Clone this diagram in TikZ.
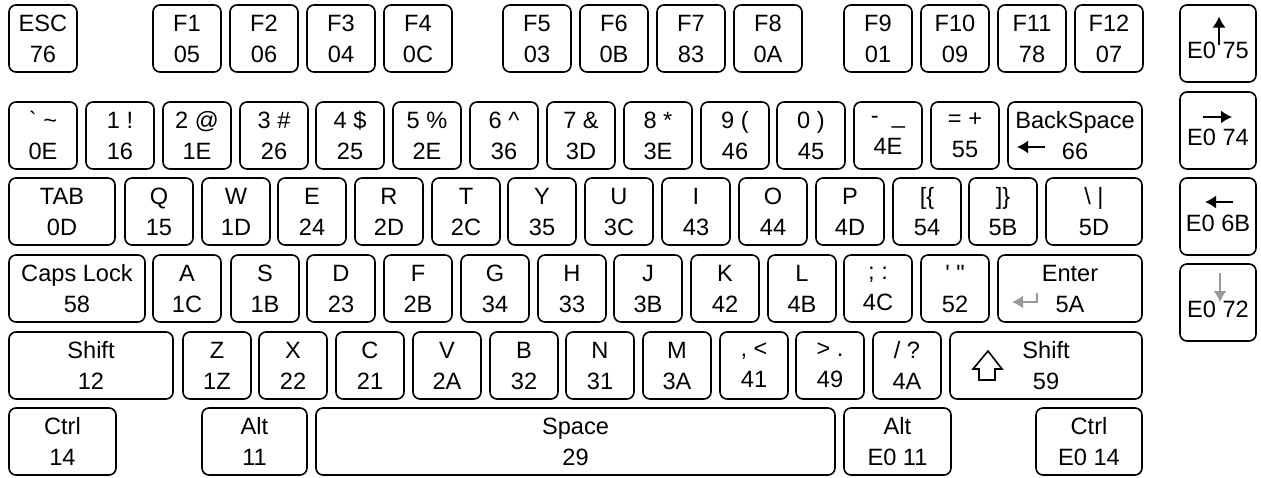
\documentclass[tikz,border=0pt]{standalone}
\usepackage{fontspec}
\setmainfont{Liberation Sans}
\usepackage{tikz}
\usetikzlibrary{arrows.meta}

\begin{document}
\begin{tikzpicture}[
    x=0.5pt, y=-0.5pt,
    key/.style={draw, rounded corners=3.5pt, line width=0.8pt, anchor=north west,
                align=center, inner sep=0pt, outer sep=0pt,
                minimum width=34pt, minimum height=33.5pt,
                font=\fontsize{11.8}{15.5}\selectfont,
                execute at begin node=\vphantom{A}},
    wd/.style={minimum width=#1*0.5pt},
    arrkey/.style={key, minimum width=38pt, minimum height=38.5pt},
    glyph/.style={-{Latex[length=5.5pt,width=6.5pt]}, line width=0.8pt}
  ]
  \useasboundingbox (0,0) rectangle (1261,477);

  % function row
  \node[key] (esc) at (9,5) {ESC\\76};
  \foreach \x/\a/\b [count=\i] in {153/F1/05, 230/F2/06, 307/F3/04, 384/F4/0C,
      503/F5/03, 580/F6/0B, 657/F7/83, 734/F8/0A,
      844/F9/01, 921/F10/09, 998/F11/78, 1075/F12/07}
    \node[key] (f\i) at (\x,5) {\a\\\b};

  % number row
  \foreach \x/\a/\b [count=\i] in {9/\textasciigrave\ \textasciitilde/0E, 86/1 !/16,
      163/2 @/1E, 240/3 \#/26, 316/4 \$/25, 393/5 \%/2E, 470/6 \textasciicircum/36,
      547/7 \&/3D, 624/8 */3E, 701/9 (/46, 777/0 )/45, 854/-\ \ \_/4E, 931/= +/55}
    \node[key] (num\i) at (\x,102) {\a\\\b};
  \node[key, wd=134] (bksp) at (1008,102) {BackSpace\\66};

  % top letter row
  \node[key, wd=106] (tab) at (9,178) {TAB\\0D};
  \foreach \x/\a/\b [count=\i] in {125/Q/15, 202/W/1D, 278/E/24, 355/R/2D,
      432/T/2C, 508/Y/35, 585/U/3C, 662/I/43, 739/O/44, 816/P/4D,
      893/[\{/54, 969/]\}/5B}
    \node[key] (top\i) at (\x,178) {\a\\\b};
  \node[key, wd=96] (bslash) at (1046,178) {\textbackslash\ |\\5D};

  % home row
  \node[key, wd=136] (caps) at (9,255) {Caps Lock\\58};
  \foreach \x/\a/\b [count=\i] in {153/A/1C, 231/S/1B, 307/D/23, 384/F/2B,
      461/G/34, 538/H/33, 614/J/3B, 691/K/42, 768/L/4B, 844/; :/4C,
      921/\textquotesingle\ \textquotedbl/52}
    \node[key] (home\i) at (\x,255) {\a\\\b};
  \node[key, wd=144] (enter) at (998,255) {Enter\\5A};

  % bottom letter row
  \node[key, wd=164] (lshift) at (9,332) {Shift\\12};
  \foreach \x/\a/\b [count=\i] in {183/Z/1Z, 259/X/22, 336/C/21, 413/V/2A,
      490/B/32, 566/N/31, 643/M/3A, 720/{,\ <}/41, 796/>\ ./49, 873/{/ ?}/4A}
    \node[key] (bot\i) at (\x,332) {\a\\\b};
  \node[key, wd=192] (rshift) at (950,332) {Shift\\59};

  % space row
  \node[key, wd=107] (lctrl) at (9,408)    {Ctrl\\14};
  \node[key, wd=105] (lalt)  at (202,408)  {Alt\\11};
  \node[key, wd=519] (space) at (316,408)  {Space\\29};
  \node[key, wd=107] (ralt)  at (844,408)  {Alt\\E0 11};
  \node[key, wd=106] (rctrl) at (1036,408) {Ctrl\\E0 14};

  % cursor keys
  \node[arrkey] (arrup)    at (1180,5)   {\\E0 75};
  \node[arrkey] (arrright) at (1180,92)  {\\E0 74};
  \node[arrkey] (arrleft)  at (1180,178) {\\E0 6B};
  \node[arrkey] (arrdown)  at (1180,264) {\\E0 72};

  % key glyphs
  \draw[glyph] ([shift={(1,1.5)}]arrup.center) -- ([shift={(1,-27)}]arrup.center);
  \draw[glyph] ([shift={(-15,-13.5)}]arrright.center) -- ([shift={(14,-13.5)}]arrright.center);
  \draw[glyph] ([shift={(15,-14.5)}]arrleft.center) -- ([shift={(-13,-14.5)}]arrleft.center);
  \draw[glyph, black!40] ([shift={(2,-29.5)}]arrdown.center) -- ([shift={(2,-0.5)}]arrdown.center);
  \draw[glyph] ([shift={(-30,11.5)}]bksp.center) -- ([shift={(-58,11.5)}]bksp.center);
  \draw[glyph, black!40] ([shift={(-33,4.5)}]enter.center) -- ([shift={(-33,13.5)}]enter.center)
    -- ([shift={(-58,13.5)}]enter.center);
  \draw[line width=0.8pt] ([shift={(-58,-14.5)}]rshift.center) -- ++(-15,18) -- ++(6,0)
    -- ++(0,11) -- ++(16,0) -- ++(0,-11) -- ++(7,0) -- cycle;
\end{tikzpicture}
\end{document}
